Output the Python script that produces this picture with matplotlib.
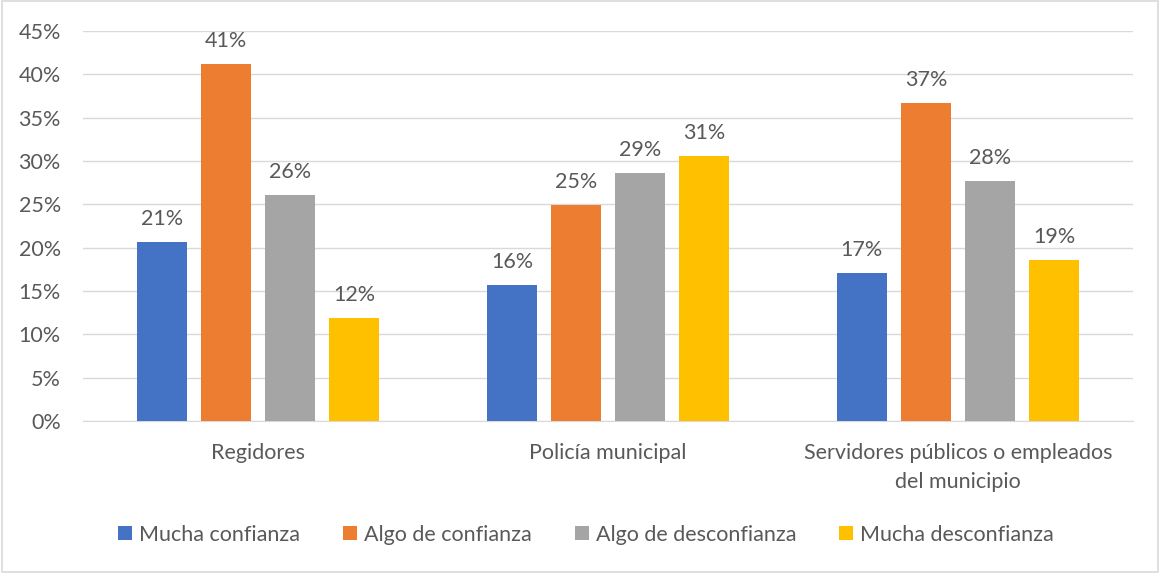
import numpy as np
import matplotlib.pyplot as plt
from matplotlib.patches import Rectangle

# ── Data ────────────────────────────────────────────────────
categories = ["Regidores", "Policía municipal",
              "Servidores públicos o empleados\ndel municipio"]
series_names = ["Mucha confianza", "Algo de confianza",
                "Algo de desconfianza", "Mucha desconfianza"]
mucha_confianza = [20.65, 15.7, 17.1]
algo_confianza = [41.2, 24.9, 36.7]
algo_desconfianza = [26.1, 28.6, 27.7]
mucha_desconfianza = [11.9, 30.6, 18.6]
colors = ["#4472C4", "#ED7D31", "#A5A5A5", "#FFC000"]

series = [mucha_confianza, algo_confianza, algo_desconfianza, mucha_desconfianza]

plt.rcParams["font.family"] = ["Lato", "DejaVu Sans"]
TXT = "#595959"
FS = 15.5

fig = plt.figure(figsize=(11.6, 5.73), dpi=100)
ax = fig.add_axes([0.0716, 0.2653, 0.9051, 0.6806])

x = np.arange(len(categories))
step = 0.183
width = 0.143
for i, (vals, name, c) in enumerate(zip(series, series_names, colors)):
    pos = x + (i - 1.5) * step
    bars = ax.bar(pos, vals, width=width, color=c, label=name, zorder=3)
    for b, v in zip(bars, vals):
        ax.text(b.get_x() + b.get_width() / 2, v + 1.5, f"{round(v):d}%",
                ha="center", va="bottom", fontsize=FS, color=TXT)

ax.set_xlim(-0.5, 2.5)
ax.set_ylim(0, 45)
ax.set_yticks(np.arange(0, 46, 5))
ax.set_yticklabels([f"{t}%" for t in range(0, 46, 5)])
ax.set_xticks(x)
ax.set_xticklabels(categories, linespacing=1.55)
ax.tick_params(axis="both", length=0, labelsize=FS, colors=TXT)
ax.tick_params(axis="y", pad=16)
ax.tick_params(axis="x", pad=16)
ax.grid(axis="y", color="#D9D9D9", linewidth=1, zorder=0)
for s in ["top", "right", "left"]:
    ax.spines[s].set_visible(False)
ax.spines["bottom"].set_color("#D9D9D9")

fig.legend(loc="center", bbox_to_anchor=(0.505, 0.067), ncol=4, frameon=False,
           fontsize=FS, labelcolor=TXT, handlelength=0.65, handleheight=0.65,
           handletextpad=0.33, columnspacing=2.0)

fig.patches.append(Rectangle((0.002, 0.002), 0.996, 0.996, transform=fig.transFigure,
                             fill=False, edgecolor="#D9D9D9", linewidth=1.2))

fig.savefig("out.png", dpi=100)
